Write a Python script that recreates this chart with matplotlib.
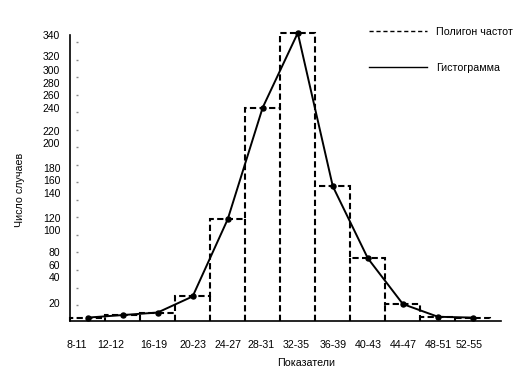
import matplotlib
matplotlib.use("Agg")
import matplotlib.pyplot as plt
import numpy as np
from matplotlib.lines import Line2D
from matplotlib.ticker import MultipleLocator, NullFormatter

# ---- data ----
categories = ["8-11", "12-12", "16-19", "20-23", "24-27", "28-31",
              "32-35", "36-39", "40-43", "44-47", "48-51", "52-55"]
counts = [4, 7, 10, 29, 120, 252, 340, 159, 74, 20, 5, 4]
ytick_labels = ["20", "40", "60", "80", "100", "120", "140", "160", "180",
                "200", "220", "240", "260", "280", "300", "320", "340"]
legend_labels = ["Полигон частот", "Гистограмма"]
x_title = "Показатели"
y_title = "Число случаев"

# ---- layout (where the hand-placed labels sit on the axis) ----
ytick_at = [20.8, 52, 65.9, 81.5, 108, 122, 151.4, 166, 180.8, 209.8,
            224.7, 252, 267, 281, 296, 313, 337.6]
xtick_shift = [-0.3, -0.33, -0.1, 0, 0, -0.06, -0.05, 0, 0, 0, 0, -0.1]

plt.rcParams['font.family'] = ['Liberation Sans', 'DejaVu Sans']

W, H = 518, 372
fig = plt.figure(figsize=(W / 100, H / 100), dpi=100)
ax = fig.add_axes([70 / W, 1 - 321 / H, (501 - 70) / W, (321 - 35) / H])

x = np.arange(len(categories))
vals = np.array(counts, dtype=float)
edges = np.concatenate([x - 0.5, [x[-1] + 0.5]])
dash = (0, (3.0, 1.6))

# histogram outline: dashed steps plus the inner bar sides (drawn once each)
ax.stairs(vals, edges, baseline=0, color="black", linewidth=1.5,
          linestyle=dash, clip_on=False)
inner_tops = np.minimum(vals[:-1], vals[1:])
ax.vlines(edges[1:-1], 0, inner_tops, color="black", linewidth=1.5,
          linestyle=dash)

ax.plot(x, counts, color="black", linewidth=1.4, marker="o",
        markersize=3.6, clip_on=False, zorder=3)

ax.set_xlim(-0.5, 11.8)
ax.set_ylim(0, 336.5)

ax.set_xticks(x + np.array(xtick_shift))
ax.set_xticklabels(categories, fontsize=7.7)
ax.set_yticks(ytick_at)
ax.set_yticklabels(ytick_labels, fontsize=7.5)
ax.tick_params(axis="x", length=0, pad=14)
ax.tick_params(axis="y", length=0, pad=7)

for s in ["top", "right"]:
    ax.spines[s].set_visible(False)
for s in ["left", "bottom"]:
    ax.spines[s].set_linewidth(1.2)
    ax.spines[s].set_zorder(4)

ax.set_xlabel(x_title, fontsize=7.7)
ax.xaxis.set_label_coords(0.548, -0.128)
ax.set_ylabel(y_title, fontsize=7.7)
ax.yaxis.set_label_coords(-0.104, 0.458)

# faint dotted marks just inside the left axis
sec = ax.secondary_yaxis(7 / 431)
sec.spines["right"].set_visible(False)
sec.spines["left"].set_visible(False)
sec.yaxis.set_major_locator(MultipleLocator(20.7, offset=18.8))
sec.yaxis.set_major_formatter(NullFormatter())
sec.tick_params(axis="y", direction="inout", length=1.5, width=1.0,
                colors="#888888")

handles = [Line2D([], [], color="black", linewidth=1.0, linestyle=(0, (3, 2))),
           Line2D([], [], color="black", linewidth=1.0)]
fig.legend(handles, legend_labels, loc="upper left",
           bbox_to_anchor=(369 / W, 1 - 27 / H), bbox_transform=fig.transFigure,
           frameon=False, fontsize=7.7, handlelength=5.4, handletextpad=0.9,
           labelspacing=2.4, borderpad=0, borderaxespad=0)

fig.savefig("out.png", dpi=100)
